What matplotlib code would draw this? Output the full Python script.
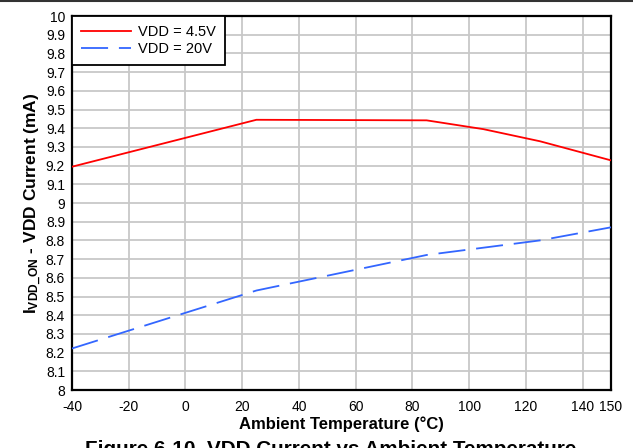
import matplotlib
matplotlib.use("Agg")
import matplotlib.pyplot as plt
import numpy as np

plt.rcParams['font.family'] = ['Liberation Sans', 'DejaVu Sans']
plt.rcParams['mathtext.fontset'] = 'custom'
plt.rcParams['mathtext.rm'] = 'Liberation Sans'
plt.rcParams['mathtext.bf'] = 'Liberation Sans:bold'

temp_45 = [-40, 25, 85, 105, 125, 150]
idd_45 = [9.194, 9.445, 9.442, 9.395, 9.33, 9.228]
temp_20 = [-40, 25, 85, 125, 150]
idd_20 = [8.222, 8.532, 8.722, 8.80, 8.870]

x_ticks = [-40, -20, 0, 20, 40, 60, 80, 100, 120, 140, 150]
y_ticks = [round(8 + 0.1 * i, 1) for i in range(21)]
y_labels = ['8', '8.1', '8.2', '8.3', '8.4', '8.5', '8.6', '8.7', '8.8', '8.9', '9',
            '9.1', '9.2', '9.3', '9.4', '9.5', '9.6', '9.7', '9.8', '9.9', '10']

fig = plt.figure(figsize=(6.33, 4.48), dpi=100)
ax = fig.add_axes([72/633, 1-390/448, (611-72)/633, (390-16)/448])

ax.plot(temp_45, idd_45, color='#ff0000', lw=1.3, label='VDD = 4.5V', zorder=3)
ax.plot(temp_20, idd_20, color='#3366ff', lw=1.3, linestyle=(0, (15, 6)), label='VDD = 20V', zorder=3)

ax.set_xlim(-40, 150)
ax.set_ylim(8, 10)
ax.set_xticks(x_ticks)
ax.set_xticklabels([str(t) for t in x_ticks])
ax.set_yticks(y_ticks)
ax.set_yticklabels(y_labels)
ax.tick_params(length=0, labelsize=10)
ax.tick_params(axis='x', pad=7)
ax.tick_params(axis='y', pad=5)
ax.grid(True, color='#c8c8c8', lw=1.3, zorder=0)
ax.set_axisbelow(True)
for s in ax.spines.values():
    s.set_linewidth(1.6)
    s.set_color('black')

ax.set_xlabel('Ambient Temperature (°C)', fontsize=12, fontweight='bold', labelpad=2)
ax.set_ylabel(r'$\mathbf{I_{VDD\_ON}}$ - VDD Current (mA)', fontsize=12.5, fontweight='bold', labelpad=1)

leg = ax.legend(loc='upper left', borderaxespad=0, fancybox=False, framealpha=1,
                edgecolor='black', fontsize=10.5, handlelength=3.4, borderpad=0.62,
                labelspacing=0.2, handletextpad=0.5)
leg.get_frame().set_linewidth(1.3)

fig.text(0.522, 1-440/448, 'Figure 6-10. VDD Current vs Ambient Temperature', ha='center', va='top',
         fontsize=14.9, fontweight='bold')
fig.add_artist(plt.Line2D([0, 1], [1-1/448, 1-1/448], color='#333333', lw=1.5, transform=fig.transFigure))

fig.savefig('out.png', dpi=100)
